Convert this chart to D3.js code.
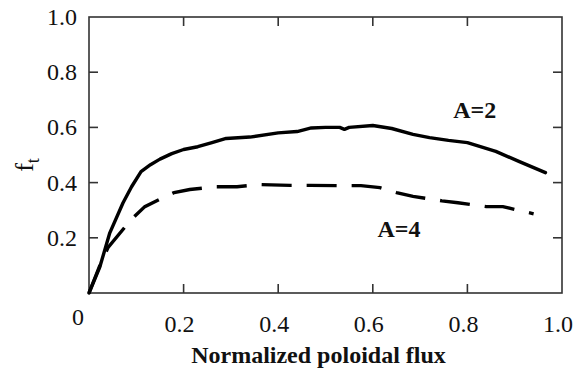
<!DOCTYPE html>
<html>
<head>
<meta charset="utf-8">
<script src="https://cdn.jsdelivr.net/npm/d3@7"></script>
</head>
<body style="margin:0">
<div id="chart"></div>
<script>
// normalized poloidal flux vs trapped fraction
const fluxA2 = [0, 0.023, 0.044, 0.072, 0.09, 0.11, 0.13, 0.15, 0.175, 0.2, 0.23, 0.26, 0.29, 0.34, 0.4, 0.44, 0.47, 0.5, 0.53, 0.54, 0.55, 0.6, 0.64, 0.685, 0.72, 0.76, 0.8, 0.86, 0.91, 0.965];
const ftA2 = [0, 0.095, 0.218, 0.327, 0.385, 0.44, 0.465, 0.485, 0.505, 0.52, 0.53, 0.545, 0.56, 0.565, 0.58, 0.585, 0.598, 0.6, 0.6, 0.593, 0.6, 0.607, 0.596, 0.575, 0.563, 0.553, 0.545, 0.513, 0.476, 0.436];

const fluxA4 = [0, 0.023, 0.04, 0.087, 0.118, 0.15, 0.18, 0.213, 0.27, 0.313, 0.36, 0.425, 0.467, 0.53, 0.575, 0.615, 0.65, 0.685, 0.746, 0.78, 0.84, 0.875, 0.94];
const ftA4 = [0, 0.10, 0.164, 0.262, 0.313, 0.34, 0.364, 0.375, 0.385, 0.385, 0.393, 0.39, 0.39, 0.389, 0.389, 0.382, 0.364, 0.35, 0.334, 0.327, 0.313, 0.313, 0.287];

const xTicks = [0.2, 0.4, 0.6, 0.8, 1.0];
const yTicks = [0.2, 0.4, 0.6, 0.8, 1.0];
const innerTicks = [0.2, 0.4, 0.6, 0.8];

const width = 578, height = 372;
const margin = { top: 17, right: 16, bottom: 79, left: 89 };
const ink = "#111";
const tickLen = 9;
const fmt = d3.format(".1f");

const svg = d3.select("#chart").append("svg")
  .attr("width", width)
  .attr("height", height);

const x = d3.scaleLinear().domain([0, 1]).range([margin.left, width - margin.right]);
const y = d3.scaleLinear().domain([0, 1]).range([height - margin.bottom, margin.top]);

function serif(sel, size, weight) {
  return sel.style("font-family", "Liberation Serif")
    .style("font-size", size + "px")
    .style("font-weight", weight || "normal")
    .attr("fill", ink);
}

// labels first, plain text straight on the svg
svg.selectAll("text.xlab").data(xTicks).join("text")
  .attr("class", "xlab")
  .attr("x", d => x(d) - 4).attr("y", y(0) + 39)
  .attr("text-anchor", "middle")
  .call(serif, 24)
  .text(fmt);

svg.selectAll("text.ylab").data(yTicks).join("text")
  .attr("class", "ylab")
  .attr("x", x(0) - 12).attr("y", d => y(d) + 8)
  .attr("text-anchor", "end")
  .call(serif, 24)
  .text(fmt);

svg.append("text")
  .attr("x", x(0) - 11).attr("y", y(0) + 32)
  .attr("text-anchor", "middle")
  .call(serif, 24)
  .text("0");

svg.append("text")
  .attr("x", (x(0) + x(1)) / 2 - 7).attr("y", height - 9)
  .attr("text-anchor", "middle")
  .call(serif, 24, "bold")
  .text("Normalized poloidal flux");

const yLabel = svg.append("text")
  .attr("transform", `translate(33,${(y(0) + y(1)) / 2 + 10}) rotate(-90)`)
  .attr("text-anchor", "middle")
  .call(serif, 26);
yLabel.append("tspan").text("f");
yLabel.append("tspan").style("font-size", "18px").attr("dy", 6).text("t");

svg.append("text")
  .attr("x", x(0.77)).attr("y", y(0.635))
  .call(serif, 24, "bold")
  .text("A=2");

svg.append("text")
  .attr("x", x(0.61)).attr("y", y(0.203))
  .call(serif, 24, "bold")
  .text("A=4");

// frame
svg.append("rect")
  .attr("x", x(0)).attr("y", y(1))
  .attr("width", x(1) - x(0)).attr("height", y(0) - y(1))
  .attr("fill", "none").attr("stroke", "#333").attr("stroke-width", 1.6);

// inward ticks on all four sides
const ticks = svg.append("g").attr("stroke", "#333").attr("stroke-width", 1.6);
ticks.selectAll("line.xb").data(innerTicks).join("line").attr("class", "xb")
  .attr("x1", d => x(d)).attr("x2", d => x(d)).attr("y1", y(0)).attr("y2", y(0) - tickLen);
ticks.selectAll("line.xt").data(innerTicks).join("line").attr("class", "xt")
  .attr("x1", d => x(d)).attr("x2", d => x(d)).attr("y1", y(1)).attr("y2", y(1) + tickLen);
ticks.selectAll("line.yl").data(innerTicks).join("line").attr("class", "yl")
  .attr("y1", d => y(d)).attr("y2", d => y(d)).attr("x1", x(0)).attr("x2", x(0) + tickLen);
ticks.selectAll("line.yr").data(innerTicks).join("line").attr("class", "yr")
  .attr("y1", d => y(d)).attr("y2", d => y(d)).attr("x1", x(1)).attr("x2", x(1) - tickLen);

// curves
const line = d3.line().x(d => x(d[0])).y(d => y(d[1]));

svg.append("path")
  .datum(d3.zip(fluxA2, ftA2))
  .attr("d", line)
  .attr("fill", "none").attr("stroke", "#000").attr("stroke-width", 3.4)
  .attr("stroke-linejoin", "round").attr("stroke-linecap", "round");

svg.append("path")
  .datum(d3.zip(fluxA4, ftA4))
  .attr("d", line)
  .attr("fill", "none").attr("stroke", "#000").attr("stroke-width", 3.4)
  .attr("stroke-dasharray", "30,15")
  .attr("stroke-linecap", "butt");
</script>
</body>
</html>
